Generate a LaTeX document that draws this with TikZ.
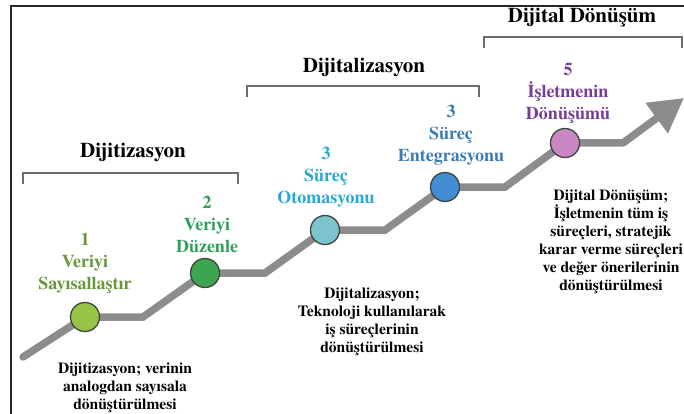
\documentclass[tikz,border=0pt]{standalone}
\usepackage{fontspec}
\setmainfont{texgyretermes}[Extension=.otf,UprightFont=*-regular,BoldFont=*-bold,ItalicFont=*-italic,BoldItalicFont=*-bolditalic]
\usetikzlibrary{arrows.meta}
\definecolor{trackgray}{RGB}{140,140,140}
\definecolor{bracketgray}{RGB}{110,110,110}
\definecolor{dotborder}{RGB}{60,70,60}
\definecolor{lab1}{RGB}{104,150,58}
\definecolor{lab2}{RGB}{46,160,90}
\definecolor{lab3}{RGB}{40,168,216}
\definecolor{lab4}{RGB}{58,125,180}
\definecolor{lab5}{RGB}{120,60,150}
\definecolor{c1}{RGB}{150,196,72}
\definecolor{c2}{RGB}{60,165,80}
\definecolor{c3}{RGB}{125,195,205}
\definecolor{c4}{RGB}{65,140,210}
\definecolor{c5}{RGB}{200,135,195}
\begin{document}
\begin{tikzpicture}[x=1pt,y=-1pt,
  track/.style={draw=trackgray,line width=7.5pt,line join=miter},
  dot/.style={circle,draw=dotborder,line width=1.3pt,minimum size=29pt,inner sep=0pt},
  lbl/.style={font=\bfseries\fontsize{18}{22}\selectfont,align=center,inner sep=0pt},
  desc/.style={font=\bfseries\fontsize{15.5}{18}\selectfont,align=center,inner sep=0pt},
  head/.style={font=\bfseries\fontsize{21}{25}\selectfont,inner sep=0pt},
  bracket/.style={draw=bracketgray,line width=1.5pt},
  frameline/.style={draw=black!85,line width=1.5pt}]
\useasboundingbox (0,0) rectangle (684,414);
\fill[white] (0,0) rectangle (684,414);
\draw[frameline] (11,414) -- (11,6) -- (684,6);

% track coordinates
\coordinate (s)  at (23,357);
\coordinate (p1) at (85,317);
\coordinate (b1) at (143,317);
\coordinate (p2) at (205,273);
\coordinate (b2) at (265,273);
\coordinate (p3) at (325,230);
\coordinate (b3) at (385,230);
\coordinate (p4) at (445,187);
\coordinate (b4) at (505,187);
\coordinate (p5) at (565,143);
\coordinate (b5) at (623,143);
\coordinate (tip) at (684,98);

\draw[track,line cap=round] (s) -- (p1) -- (b1) -- (p2) -- (b2) -- (p3) -- (b3) -- (p4) -- (b4) -- (p5) -- (b5);
\draw[track,-{Triangle[length=34pt,width=36pt]}] (b5) -- (tip);

\node[dot,fill=c1] (n1) at (p1) {};
\node[dot,fill=c2] (n2) at (p2) {};
\node[dot,fill=c3] (n3) at (p3) {};
\node[dot,fill=c4] (n4) at (p4) {};
\node[dot,fill=c5] (n5) at (p5) {};

% step labels
\node[lbl,text=lab1] (t1) at (85,263) {1\\Veriyi\\Sayısallaştır};
\node[lbl,text=lab2] (t2) at (207,224) {2\\Veriyi\\Düzenle};
\node[lbl,text=lab3] (t3) at (326,177) {3\\Süreç\\Otomasyonu};
\node[lbl,text=lab4] (t4) at (451,135) {3\\Süreç\\Entegrasyonu};
\node[lbl,text=lab5] (t5) at (568,93) {5\\İşletmenin\\Dönüşümü};

% descriptions
\node[desc] (d1) at (125,388) {Dijitizasyon; verinin\\analogdan sayısala\\dönüştürülmesi};
\node[desc] (d2) at (372,322) {Dijitalizasyon;\\Teknoloji kullanılarak\\iş süreçlerinin\\dönüştürülmesi};
\node[desc] (d3) at (611,242) {Dijital Dönüşüm;\\İşletmenin tüm iş\\süreçleri, stratejik\\karar verme süreçleri\\ve değer önerilerinin\\dönüştürülmesi};

% headings and brackets
\node[head] (h1) at (133,152) {Dijitizasyon};
\node[head] (h2) at (364,67) {Dijitalizasyon};
\node[head] (h3) at (582,18) {Dijital Dönüşüm};
\draw[bracket] (23,184) -- (23,173) -- (238,173) -- (238,184);
\draw[bracket] (247,97) -- (247,86) -- (479,86) -- (479,97);
\draw[bracket] (484,48) -- (484,37) -- (682,37) -- (682,48);
\end{tikzpicture}
\end{document}
